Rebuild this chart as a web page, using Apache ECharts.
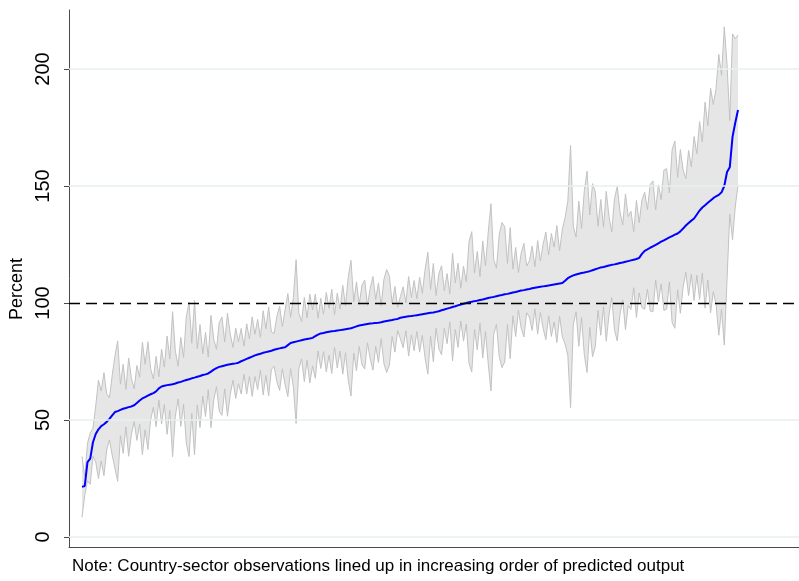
<!DOCTYPE html>
<html>
<head>
<meta charset="utf-8">
<script src="https://cdn.jsdelivr.net/npm/echarts@6/dist/echarts.min.js"></script>
<style>
  html, body { margin: 0; padding: 0; background: #fff; }
  #chart { width: 799px; height: 581px; }
</style>
</head>
<body>
<div id="chart"></div>
<script>
// Predicted output (percent) for each country-sector observation, sorted ascending
const predicted = [
  21.4, 21.8, 32, 33.5, 40.5, 44, 46, 47.4, 48.2, 49.2,
  50.5, 52, 53.4, 53.8, 54.3, 54.8, 55.1, 55.5, 55.8, 56.3,
  57.3, 58.3, 59.2, 59.8, 60.4, 61, 61.5, 62.2, 63.5, 64.3,
  64.6, 64.9, 65.1, 65.3, 65.6, 66, 66.3, 66.7, 67.1, 67.4,
  67.8, 68.1, 68.5, 68.8, 69.2, 69.5, 69.9, 70.7, 71.5, 72.2,
  72.7, 73, 73.3, 73.6, 73.8, 74, 74.2, 74.5, 75.1, 75.6,
  76.1, 76.6, 77.1, 77.6, 78, 78.3, 78.7, 79, 79.3, 79.6,
  80, 80.3, 80.6, 80.9, 81.1, 82, 82.9, 83.2, 83.5, 83.8,
  84.1, 84.4, 84.6, 84.8, 85.1, 85.8, 86.5, 87, 87.2, 87.5,
  87.7, 87.9, 88, 88.2, 88.4, 88.6, 88.8, 89, 89.2, 89.6,
  90, 90.4, 90.6, 90.8, 91, 91.2, 91.3, 91.5, 91.6, 91.8,
  92.1, 92.3, 92.5, 92.7, 93, 93.2, 93.7, 93.9, 94.1, 94.3,
  94.4, 94.6, 94.8, 95, 95.2, 95.4, 95.6, 95.8, 95.9, 96.2,
  96.5, 96.9, 97.2, 97.6, 97.9, 98.3, 98.6, 99, 99.3, 99.7,
  100, 100.3, 100.5, 100.8, 101, 101.3, 101.5, 101.8, 102.1, 102.4,
  102.6, 102.9, 103.2, 103.4, 103.7, 103.9, 104.2, 104.5, 104.7, 105,
  105.3, 105.5, 105.8, 106, 106.3, 106.5, 106.7, 106.9, 107.1, 107.3,
  107.5, 107.7, 107.9, 108.1, 108.3, 108.5, 109.5, 110.6, 111.3, 111.8,
  112.2, 112.5, 112.8, 113, 113.3, 113.6, 114, 114.4, 114.8, 115.2,
  115.4, 115.7, 116, 116.3, 116.5, 116.8, 117.1, 117.3, 117.6, 117.9,
  118.2, 118.5, 118.8, 119.3, 121, 122.3, 122.9, 123.6, 124.2, 124.8,
  125.5, 126.2, 126.8, 127.4, 128, 128.6, 129.2, 129.7, 130.6, 131.8,
  133.1, 134.2, 135.2, 136.1, 137.8, 139.5, 140.8, 141.8, 142.8, 143.8,
  144.8, 145.6, 146.2, 147.3, 150, 156, 158, 171, 177, 182.5
];

// Half-width of the confidence interval around each prediction
const ciHalfWidth = [
  13, 4, 8, 11, 6, 12, 21, 15, 22, 12,
  9, 17, 24, 30, 11, 19, 8, 21, 12, 7,
  16, 10, 24, 14, 23, 11, 6, 15, 5, 16,
  8, 21, 11, 31, 14, 7, 19, 10, 27, 33,
  15, 33, 12, 22, 9, 18, 7, 24, 13, 8,
  19, 21, 10, 22, 13, 7, 15, 9, 14, 6,
  15, 8, 17, 9, 15, 7, 18, 10, 19, 8,
  7, 14, 18, 9, 16, 22, 11, 19, 35, 12,
  8, 18, 9, 19, 12, 18, 7, 15, 8, 17,
  10, 18, 7, 16, 9, 19, 10, 22, 29, 11,
  19, 9, 17, 19, 8, 15, 20, 10, 17, 7,
  18, 22, 19, 7, 14, 5, 9, 13, 6, 17,
  8, 15, 7, 16, 9, 19, 26, 10, 21, 7,
  16, 19, 8, 15, 6, 23, 10, 18, 7, 16,
  9, 26, 30, 12, 21, 10, 25, 14, 28, 40,
  16, 12, 26, 31, 29, 13, 28, 10, 19, 8,
  16, 20, 10, 12, 18, 9, 20, 11, 18, 23,
  13, 22, 16, 25, 14, 23, 27, 33, 56, 21,
  16, 31, 19, 35, 43, 24, 37, 33, 18, 29,
  17, 32, 21, 14, 28, 33, 22, 16, 29, 19,
  21, 12, 25, 15, 23, 25, 17, 27, 28, 15,
  25, 18, 30, 30, 19, 37, 40, 24, 35, 25,
  20, 31, 23, 35, 26, 38, 28, 44, 33, 48,
  40, 46, 60, 50, 68, 46, 20, 44, 36, 32
];

const yTicks = [0, 50, 100, 150, 200];
const gridValues = [0, 50, 150, 200];
const referenceLevel = 100;
const yTitle = 'Percent';
const noteText = 'Note: Country-sector observations lined up in increasing order of predicted output';

const FONT = "'Liberation Sans', Arial, Helvetica, sans-serif";
const BAND_FILL = '#e6e6e6';
const BAND_EDGE = '#c2c2c2';

// interval bounds and the row table handed to the chart
const ciLow = predicted.map((v, i) => v - ciHalfWidth[i]);
const ciHigh = predicted.map((v, i) => v + ciHalfWidth[i]);
const bandRows = predicted.map((v, i) => [i, ciLow[i], ciHigh[i]]);
const predData = predicted.map((v, i) => [i, v]);

// Whole interval band drawn once as a filled polygon in data coordinates
function renderBand(params, api) {
  if (params.dataIndex !== 0) return null;
  const top = ciHigh.map((v, i) => api.coord([i, v]));
  const bottom = ciLow.map((v, i) => api.coord([i, v]));
  const outline = top.concat(bottom.slice().reverse());
  return {
    type: 'group',
    children: [
      { type: 'polygon', shape: { points: outline }, style: { fill: BAND_FILL, stroke: null } },
      { type: 'polyline', shape: { points: top }, style: { fill: null, stroke: BAND_EDGE, lineWidth: 1 } },
      { type: 'polyline', shape: { points: bottom }, style: { fill: null, stroke: BAND_EDGE, lineWidth: 1 } }
    ]
  };
}

const chart = echarts.init(document.getElementById('chart'), null, { renderer: 'canvas' });

chart.setOption({
  animation: false,
  backgroundColor: '#ffffff',
  grid: { left: 69, right: 0, top: 10, bottom: 34, containLabel: false },
  xAxis: {
    type: 'value',
    min: -4.736,
    max: 261.22,
    axisLine: { show: true, onZero: false, lineStyle: { color: '#4a4a4a', width: 1 } },
    axisTick: { show: false },
    axisLabel: { show: false },
    splitLine: { show: false }
  },
  yAxis: {
    type: 'value',
    min: -4.27,
    max: 225.2,
    axisLine: { show: true, onZero: false, lineStyle: { color: '#4a4a4a', width: 1 } },
    axisTick: {
      show: true, length: 5, customValues: yTicks,
      lineStyle: { color: '#4a4a4a', width: 1 }
    },
    axisLabel: {
      show: true, customValues: yTicks, rotate: 90, margin: 16,
      color: '#000', fontSize: 20, fontFamily: FONT
    },
    splitLine: { show: false }
  },
  graphic: [
    {
      type: 'text', x: 17, y: 289, rotation: Math.PI / 2,
      style: {
        text: yTitle, fill: '#000', font: '18px ' + FONT,
        textAlign: 'center', textVerticalAlign: 'middle'
      }
    },
    {
      type: 'text', left: 72, top: 558,
      style: { text: noteText, fill: '#000', font: '17px ' + FONT }
    }
  ],
  series: [
    {
      // reference and grid lines, drawn beneath the interval band
      type: 'line', data: [], z: 1, silent: true,
      markLine: {
        silent: true, symbol: 'none', animation: false,
        label: { show: false },
        data: gridValues.map(v => ({ yAxis: v, lineStyle: { color: '#e7eff2', width: 1.5, type: 'solid' } }))
          .concat([{ yAxis: referenceLevel, lineStyle: { color: '#000', width: 1.4, type: [11, 6] } }])
      }
    },
    {
      name: 'interval', type: 'custom', data: bandRows, z: 2, silent: true,
      encode: { x: 0, y: [1, 2] },
      renderItem: renderBand
    },
    {
      name: 'predicted', type: 'line', data: predData, z: 4,
      symbol: 'none', silent: true,
      lineStyle: { color: '#0000ff', width: 2 }
    }
  ]
});
</script>
</body>
</html>
